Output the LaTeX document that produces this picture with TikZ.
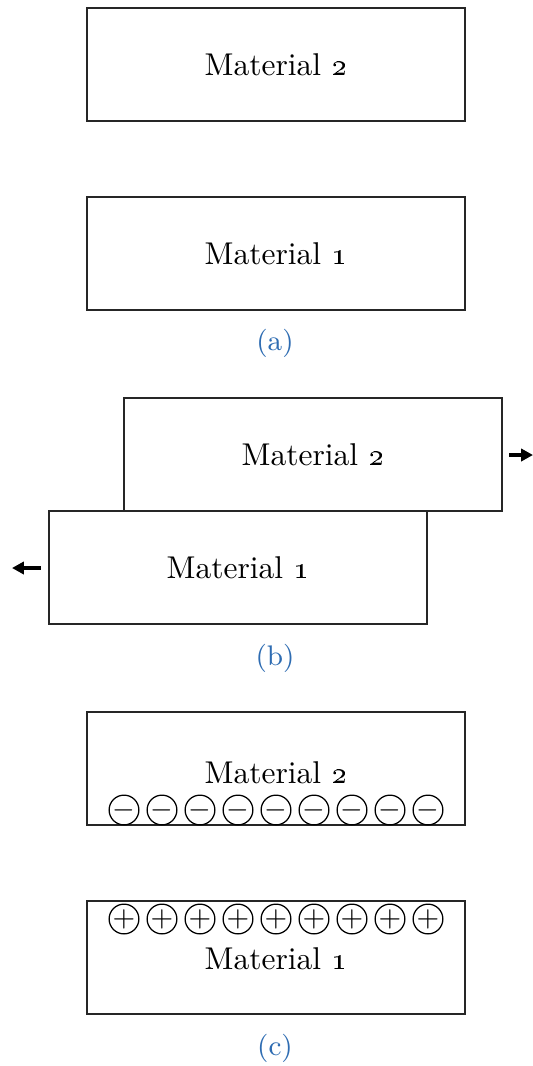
\documentclass[tikz,border=0pt]{standalone}
\usetikzlibrary{arrows.meta}
\definecolor{capblue}{RGB}{46,108,178}
\begin{document}
\begin{tikzpicture}[x=0.3175pt,y=-0.3175pt,
  material/.style={draw=black!85,line width=0.45pt,minimum width=120pt,minimum height=35.9pt,inner sep=0pt},
  label/.style={inner sep=0pt},
  subcap/.style={text=capblue,font=\small,inner sep=0pt},
  charge/.style={circle,draw,line width=0.4pt,minimum size=9.4pt,inner sep=0pt,font=\small},
  motion/.style={line width=1.5pt,-{Triangle[length=3.8pt,width=3.9pt]}}]
\useasboundingbox (0,0) rectangle (533,1066);

% (a) the two materials apart
\node[material] (a2) at (276,64.5) {};
\node[label] at (276,64.5) {Material \oldstylenums{2}};
\node[material] (a1) at (276,253.5) {};
\node[label] at (276,253.5) {Material \oldstylenums{1}};
\node[subcap] (capa) at (275,343) {(a)};

% (b) the materials rubbing against each other
\node[material] (b2) at (313,454.5) {};
\node[label] at (313,454.5) {Material \oldstylenums{2}};
\node[material] (b1) at (238,567.5) {};
\node[label] at (238,567.5) {Material \oldstylenums{1}};
\coordinate (r0) at (509,455);
\coordinate (r1) at (533,455);
\coordinate (l0) at (41,568);
\coordinate (l1) at (12,568);
\draw[motion] (r0) -- (r1);
\draw[motion] (l0) -- (l1);
\node[subcap] (capb) at (275,658) {(b)};

% (c) the charged materials after separation
\node[material] (c2) at (276,768.5) {};
\node[label] at (276,773) {Material \oldstylenums{2}};
\node[material] (c1) at (276,957.5) {};
\node[label] at (276,959) {Material \oldstylenums{1}};
\foreach \k in {0,...,8}{
  \node[charge] (neg\k) at (124+38*\k,810) {$-$};
  \node[charge] (pos\k) at (124+38*\k,919) {$+$};
}
\node[subcap] (capc) at (275,1048) {(c)};
\end{tikzpicture}
\end{document}
